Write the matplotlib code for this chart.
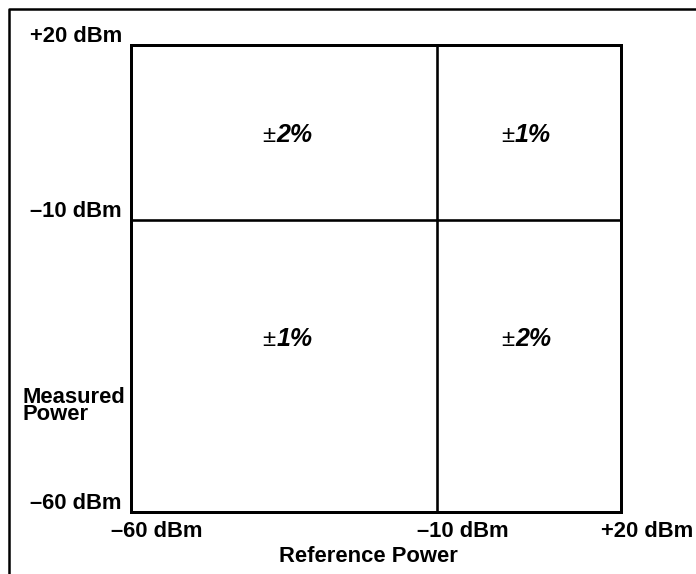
import matplotlib
matplotlib.use("Agg")
import matplotlib.pyplot as plt
from matplotlib.lines import Line2D

W, H = 696, 574
DPI = 72

# scale limits and dividing level (dBm)
lo, hi = -60, 20
split = -10

tick_vals = [-60, -10, 20]
tick_labels = ["\u201360 dBm", "\u201310 dBm", "+20 dBm"]

# accuracy regions
cell_x = [-35, 4, -35, 4]
cell_y = [5, 5, -30, -30]
cell_labels = ["2%", "1%", "1%", "2%"]

FONT = ["Liberation Sans", "DejaVu Sans"]
FS = 22

fig = plt.figure(figsize=(W / DPI, H / DPI), dpi=DPI)
ax = fig.add_axes([131 / W, (H - 512) / H, 490 / W, 467 / H])
ax.set_xlim(lo, hi)
ax.set_ylim(lo, hi)
ax.set_xticks([])
ax.set_yticks([])
for s in ax.spines.values():
    s.set_linewidth(3)

ax.axvline(split, color="black", lw=2.6)
ax.axhline(split, color="black", lw=2.6)

# tick labels
for v, lab in zip(tick_vals, tick_labels):
    ax.annotate(lab, xy=(lo, v), xytext=(-9, 3), textcoords="offset points",
                ha="right", va="baseline", fontsize=FS, fontweight="bold", family=FONT)
    ax.annotate(lab, xy=(v, lo), xytext=(26, -25), textcoords="offset points",
                ha="center", va="baseline", fontsize=FS, fontweight="bold", family=FONT)

# region labels
for x, y, lab in zip(cell_x, cell_y, cell_labels):
    ax.annotate("\u00b1", xy=(x, y), xytext=(-9, -9), textcoords="offset points",
                ha="right", va="baseline", fontsize=FS + 2, family=FONT)
    ax.annotate(lab, xy=(x, y), xytext=(-8, -9), textcoords="offset points",
                ha="left", va="baseline", fontsize=FS + 3, fontweight="bold",
                fontstyle="italic", family=FONT)

# axis titles
fig.text(22 / W, 1 - 403 / H, "Measured", ha="left", va="baseline",
         fontsize=FS, fontweight="bold", family=FONT)
fig.text(22 / W, 1 - 420 / H, "Power", ha="left", va="baseline",
         fontsize=FS, fontweight="bold", family=FONT)
fig.text(368 / W, 1 - 562 / H, "Reference Power", ha="center", va="baseline",
         fontsize=FS, fontweight="bold", family=FONT)

# outer frame (only left and top edges visible)
fig.add_artist(Line2D([9 / W, 9 / W, 1.0], [0.0, 1 - 9 / H, 1 - 9 / H],
                      transform=fig.transFigure, color="black", lw=2.5))

fig.savefig("out.png", dpi=DPI)
